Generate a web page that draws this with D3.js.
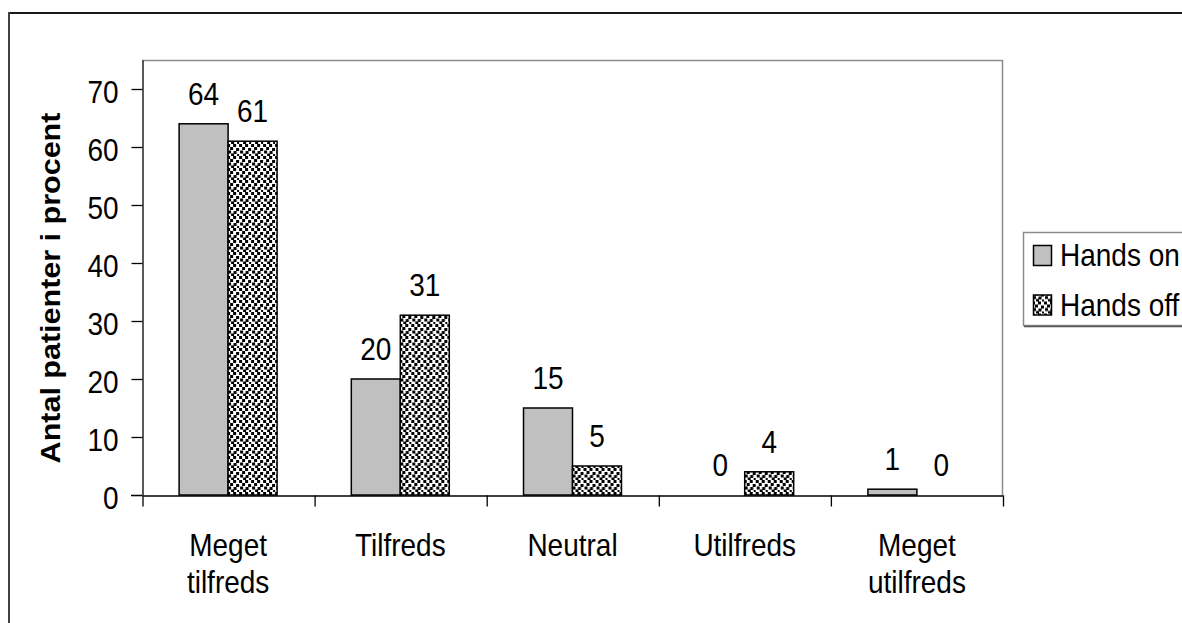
<!DOCTYPE html>
<html>
<head>
<meta charset="utf-8">
<script src="https://cdn.jsdelivr.net/npm/d3@7"></script>
<style>
  body { margin: 0; background: #fff; }
  svg text { font-family: "Liberation Sans", Arimo, sans-serif; fill: #000; }
</style>
</head>
<body>
<script>
// Data
let categories = ["Meget tilfreds", "Tilfreds", "Neutral", "Utilfreds", "Meget utilfreds"];
let series = ["Hands on", "Hands off"];
let handsOn = [64, 20, 15, 0, 1];
let handsOff = [61, 31, 5, 4, 0];
let yTicks = [0, 10, 20, 30, 40, 50, 60, 70];

let width = 1182, height = 623;
let fontSize = 28;
let sy = 1.09; // text in the picture is a bit stretched vertically

let plot = {left: 142, right: 1003, top: 60, bottom: 495};

let svg = d3.select("body").append("svg")
  .attr("width", width)
  .attr("height", height);

// pattern for the "Hands off" bars (confetti)
let defs = svg.append("defs");
let pat = defs.append("pattern")
  .attr("id", "confetti")
  .attr("patternUnits", "userSpaceOnUse")
  .attr("width", 12).attr("height", 12);
pat.append("rect").attr("width", 12).attr("height", 12).attr("fill", "#fff");
[[0, 0], [6, 0], [3, 3], [9, 4], [1, 6.5], [6.5, 7], [4, 9.5], [10, 10]].forEach(function(p){
  pat.append("rect")
    .attr("x", p[0]).attr("y", p[1])
    .attr("width", 3).attr("height", 3)
    .attr("fill", "#000");
});

let colors = ["#c0c0c0", "url(#confetti)"];

// scales
let x = d3.scaleBand()
  .domain(categories)
  .range([plot.left, plot.right])
  .paddingInner(0.431)
  .paddingOuter(0.431 / 2);

let xSub = d3.scaleBand()
  .domain(series)
  .range([0, x.bandwidth()]);

let y = d3.scaleLinear()
  .domain([0, 75])
  .range([plot.bottom, plot.top]);

// outer frame (only top and left edges visible)
svg.append("line")
  .attr("x1", 8).attr("x2", width)
  .attr("y1", 13).attr("y2", 13)
  .attr("stroke", "#1a1a1a").attr("stroke-width", 2);
svg.append("line")
  .attr("x1", 9).attr("x2", 9)
  .attr("y1", 12).attr("y2", height)
  .attr("stroke", "#404040").attr("stroke-width", 2);

// plot area border (top + right gray)
svg.append("path")
  .attr("d", "M" + plot.left + "," + (plot.top + 0.5) + "H" + (plot.right - 0.5) + "V" + plot.bottom)
  .attr("fill", "none")
  .attr("stroke", "#8c8c8c")
  .attr("stroke-width", 1.5);

// bars
let rows = categories.map(function(c, i){
  return {cat: c, values: [handsOn[i], handsOff[i]]};
});

let groups = svg.selectAll(".grp")
  .data(rows)
  .enter().append("g")
  .attr("class", "grp")
  .attr("transform", function(d){ return "translate(" + x(d.cat) + ",0)"; });

groups.selectAll("rect")
  .data(function(d){ return d.values.map(function(v, i){ return {s: series[i], v: v, i: i}; }); })
  .enter().append("rect")
  .filter(function(d){ return d.v > 0; })
  .attr("x", function(d){ return xSub(d.s); })
  .attr("y", function(d){ return y(d.v); })
  .attr("width", xSub.bandwidth())
  .attr("height", function(d){ return y(0) - y(d.v); })
  .attr("fill", function(d){ return colors[d.i]; })
  .attr("stroke", "#000")
  .attr("stroke-width", 1.5);

// value labels
groups.selectAll(".val")
  .data(function(d){ return d.values.map(function(v, i){ return {s: series[i], v: v}; }); })
  .enter().append("text")
  .attr("class", "val")
  .attr("text-anchor", "middle")
  .style("font-size", fontSize + "px")
  .attr("transform", function(d){
    return "translate(" + (xSub(d.s) + xSub.bandwidth() / 2) + "," + (y(d.v) - 19) + ") scale(1," + sy + ")";
  })
  .text(function(d){ return d.v; });

// y axis
let yAxis = svg.append("g")
  .attr("transform", "translate(" + (plot.left + 0.5) + ",0)")
  .call(d3.axisLeft(y).tickValues(yTicks).tickSize(11).tickSizeOuter(0).tickPadding(0));

yAxis.select(".domain").attr("stroke", "#000").attr("stroke-width", 1.3);
yAxis.selectAll(".tick line").attr("stroke", "#000").attr("stroke-width", 1.3);
yAxis.selectAll(".tick text")
  .attr("dy", null)
  .attr("x", -24)
  .attr("y", 13 / sy)
  .attr("transform", "scale(1," + sy + ")")
  .style("font-size", fontSize + "px")
  .style("font-family", "'Liberation Sans', Arimo, sans-serif")
  .attr("fill", "#000");

// x axis: line + ticks at category boundaries
let xIdx = d3.scaleLinear().domain([0, categories.length]).range([plot.left + 0.5, plot.right]);
let xAxis = svg.append("g")
  .attr("transform", "translate(0," + (plot.bottom + 0.5) + ")")
  .call(d3.axisBottom(xIdx).tickValues(d3.range(categories.length + 1)).tickSize(11).tickSizeOuter(0).tickFormat(""));
xAxis.select(".domain").attr("stroke", "#000").attr("stroke-width", 1.3);
xAxis.selectAll(".tick line").attr("stroke", "#000").attr("stroke-width", 1.3);
// extend axis line to the left tick
svg.append("line")
  .attr("x1", plot.left - 11).attr("x2", plot.left)
  .attr("y1", plot.bottom + 0.5).attr("y2", plot.bottom + 0.5)
  .attr("stroke", "#000").attr("stroke-width", 1.3);

// category labels
let catLabels = svg.selectAll(".cat")
  .data(categories)
  .enter().append("text")
  .attr("class", "cat")
  .attr("text-anchor", "middle")
  .style("font-size", fontSize + "px")
  .attr("transform", function(d){
    return "translate(" + (x(d) + x.bandwidth() / 2) + ",556) scale(1," + sy + ")";
  });

catLabels.selectAll("tspan")
  .data(function(d){ return d.split(" "); })
  .enter().append("tspan")
  .attr("x", 0)
  .attr("y", function(d, i){ return i * 36.7 / sy; })
  .text(function(d){ return d; });

// y axis title
svg.append("text")
  .attr("transform", "translate(60,288) scale(1," + sy + ") rotate(-90)")
  .attr("text-anchor", "middle")
  .style("font-size", "28px")
  .style("font-weight", "bold")
  .text("Antal patienter i procent");

// legend
let legend = svg.append("g");
legend.append("rect")
  .attr("x", 1023.5).attr("y", 232.5)
  .attr("width", 200).attr("height", 93)
  .attr("fill", "#fff")
  .attr("stroke", "#8c8c8c")
  .attr("stroke-width", 1.5);
legend.append("line")
  .attr("x1", 1024).attr("x2", width)
  .attr("y1", 326.5).attr("y2", 326.5)
  .attr("stroke", "#555").attr("stroke-width", 1.5);

let legendItems = legend.selectAll(".leg")
  .data(series)
  .enter().append("g")
  .attr("class", "leg")
  .attr("transform", function(d, i){ return "translate(0," + (i * 49.5) + ")"; });

legendItems.append("rect")
  .attr("x", 1033.5).attr("y", 245.5)
  .attr("width", 18).attr("height", 20)
  .attr("fill", function(d, i){ return colors[i]; })
  .attr("stroke", "#000")
  .attr("stroke-width", 1.5);

legendItems.append("text")
  .style("font-size", fontSize + "px")
  .attr("transform", "translate(1060,266) scale(1," + sy + ")")
  .text(function(d){ return d; });
</script>
</body>
</html>
